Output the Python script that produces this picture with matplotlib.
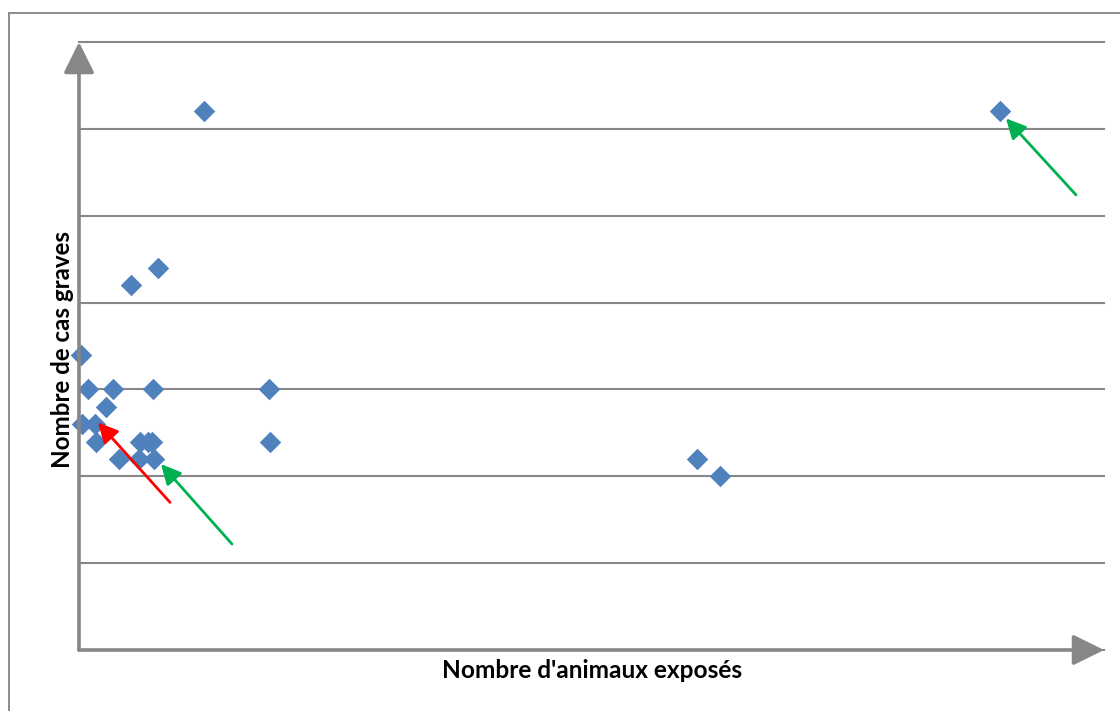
import matplotlib.pyplot as plt
from matplotlib.patches import Rectangle

# exposure vs severe cases (no tick labels on the original)
animaux = [125, 921, 79, 52, 2, 9, 34, 74, 190, 27, 3, 16, 17, 61, 69, 73, 191,
           40, 60, 75, 618, 641]
cas_graves = [31, 31, 22, 21, 17, 15, 15, 15, 15, 14, 13, 13, 12, 12, 12, 12, 12,
              11, 11, 11, 11, 10]

# highlighted points: (tail x, tail y, tip x, tip y, colour)
fleches = [
    (91, 8.5, 19, 13.1, "#FF0000"),
    (153, 6.1, 82, 10.7, "#00B050"),
    (997, 26.2, 927, 30.6, "#00B050"),
]

gris = "#878787"
bleu = "#4F81BD"

fig = plt.figure(figsize=(11.2, 7.11), dpi=100)
fig.patches.append(Rectangle((9 / 1120, -0.1), 1.2, (711 - 13) / 711 + 0.1,
                             transform=fig.transFigure, fill=False,
                             edgecolor="#8C8C8C", lw=1.4))

ax = fig.add_axes([79 / 1120, 61 / 711, 1025 / 1120, 608 / 711])
ax.set_xlim(0, 1025)
ax.set_ylim(0, 35)
ax.set_yticks(range(0, 36, 5))
ax.set_xticks([])
ax.tick_params(left=False, labelleft=False)
ax.grid(axis="y", color=gris, lw=1.5)
for gl in ax.get_ygridlines():
    gl.set_clip_on(False)
ax.set_axisbelow(True)
for s in ax.spines.values():
    s.set_visible(False)

ax.scatter(animaux, cas_graves, marker="D", s=120, color=bleu, zorder=3,
           linewidths=0, clip_on=False)

for x0, y0, x1, y1, c in fleches:
    ax.annotate("", xy=(x1, y1), xytext=(x0, y0),
                arrowprops=dict(arrowstyle="-|>,head_length=0.6,head_width=0.3",
                                color=c, lw=2, shrinkA=0, shrinkB=0,
                                mutation_scale=20),
                zorder=4)

# axis arrows
for tip in [(1, 0), (0, 1)]:
    ax.annotate("", xy=tip, xytext=(0, 0), xycoords="axes fraction",
                textcoords="axes fraction",
                arrowprops=dict(arrowstyle="-|>,head_length=0.95,head_width=0.47",
                                color=gris, lw=2.6, shrinkA=0, shrinkB=0,
                                mutation_scale=20),
                annotation_clip=False, zorder=5)

fig.text(592 / 1120, 1 - 671 / 711, "Nombre d'animaux exposés", ha="center",
         va="center", fontsize=17.6, fontweight="bold", family="Lato")
fig.text(62 / 1120, 1 - 350 / 711, "Nombre de cas graves", ha="center",
         va="center", rotation=90, fontsize=17.4, fontweight="bold", family="Lato")

fig.savefig("out.png", dpi=100)
